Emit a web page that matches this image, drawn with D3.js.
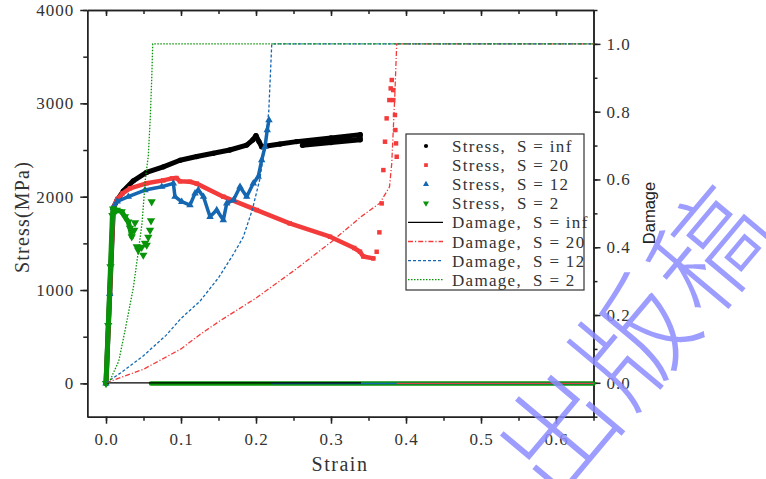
<!DOCTYPE html>
<html>
<head>
<meta charset="utf-8">
<script src="https://cdn.jsdelivr.net/npm/d3@7"></script>
<style>
  body { margin: 0; background: #fff; }
  svg { display: block; }
  text { white-space: pre; }
</style>
</head>
<body>
<svg></svg>
<script>
// tick labels
const strainTicks = [0, 0.1, 0.2, 0.3, 0.4, 0.5, 0.6];
const stressTicks = [0, 1000, 2000, 3000, 4000];
const damageTicks = [0, 0.2, 0.4, 0.6, 0.8, 1.0];

const legendLabels = ["Stress,  S = inf", "Stress,  S = 20", "Stress,  S = 12", "Stress,  S = 2",
                      "Damage,  S = inf", "Damage,  S = 20", "Damage,  S = 12", "Damage,  S = 2"];

// stress curves [strain, stress MPa]; the dense part of each scatter
const stressInf = [[0, 0], [0.005, 960], [0.0098, 1880], [0.015, 1965], [0.023, 2060], [0.0364, 2170],
  [0.054, 2260], [0.0764, 2320], [0.0987, 2390], [0.121, 2430], [0.143, 2465], [0.165, 2500],
  [0.1876, 2553], [0.196, 2610], [0.2, 2655], [0.204, 2590], [0.2076, 2535], [0.232, 2564],
  [0.254, 2590], [0.3, 2630], [0.339, 2665], [0.339, 2610], [0.3, 2580], [0.262, 2550]];

const stress20 = [[0, 0], [0.005, 960], [0.0098, 1880], [0.015, 1975], [0.022, 2035], [0.032, 2089],
  [0.054, 2143], [0.0764, 2175], [0.088, 2196], [0.094, 2200], [0.0987, 2165], [0.112, 2160],
  [0.121, 2140], [0.1564, 2000], [0.201, 1857], [0.245, 1714], [0.2987, 1571], [0.331, 1450],
  [0.3387, 1410], [0.343, 1360], [0.3564, 1339]];
// scattered points after the band
const stress20Tail = [[0.3609, 1410], [0.3645, 1618], [0.3676, 1928], [0.3698, 2285], [0.372, 2589],
  [0.3742, 2839], [0.3778, 3035], [0.3796, 3160], [0.381, 3250], [0.383, 3142], [0.383, 3035],
  [0.3853, 2875], [0.3858, 2714], [0.3867, 2571], [0.3876, 2428]];

const stress12 = [[0, 0], [0.005, 960], [0.0098, 1880], [0.015, 1950], [0.0298, 2000], [0.052, 2071],
  [0.0743, 2107], [0.0898, 2143], [0.092, 2000], [0.101, 1946], [0.112, 1910], [0.1187, 2035],
  [0.123, 2071], [0.13, 2000], [0.1387, 1785], [0.1476, 1857], [0.1564, 1750], [0.161, 1928],
  [0.17, 1964], [0.1787, 2107], [0.1876, 2000], [0.1964, 2143], [0.203, 2214], [0.2076, 2392],
  [0.212, 2535], [0.215, 2714], [0.2173, 2821]];

const stress2 = [[0, 0], [0.003, 620], [0.006, 1250], [0.0085, 1800], [0.0095, 1870], [0.0143, 1857],
  [0.0209, 1839], [0.0253, 1785], [0.0297, 1731], [0.032, 1664], [0.0343, 1571]];
const stress2Tail = [[0.0377, 1642], [0.0387, 1721], [0.041, 1464], [0.043, 1428], [0.0476, 1460],
  [0.0497, 1375], [0.052, 1503], [0.0543, 1482], [0.0564, 1567], [0.0587, 1642], [0.06, 1742],
  [0.0609, 1946]];

// stress after failure lies on zero
const zero20 = [[0.388, 0], [0.65, 0]];
const zero12 = [[0.221, 0], [0.65, 0]];
const zero2 = [[0.06, 0], [0.65, 0]];

// damage curves [strain, damage]
const damageInf = [[0, 0], [0.34, 0]];
const damage20 = [[0, 0], [0.05, 0.04], [0.1, 0.1], [0.125, 0.142], [0.15, 0.18], [0.2, 0.25],
  [0.25, 0.33], [0.3, 0.415], [0.34, 0.49], [0.365, 0.53], [0.378, 0.578], [0.381, 0.647],
  [0.383, 0.745], [0.385, 0.843], [0.3876, 1.0], [0.65, 1.0]];
const damage12 = [[0, 0], [0.02, 0.03], [0.05, 0.08], [0.08, 0.14], [0.1, 0.19], [0.125, 0.24],
  [0.15, 0.31], [0.17, 0.38], [0.183, 0.43], [0.195, 0.51], [0.205, 0.6], [0.212, 0.7],
  [0.217, 0.8], [0.221, 1.0], [0.65, 1.0]];
const damage2 = [[0, 0], [0.004, 0], [0.01, 0.03], [0.017, 0.064], [0.025, 0.15], [0.032, 0.23],
  [0.0364, 0.28], [0.042, 0.37], [0.048, 0.47], [0.0525, 0.6], [0.0564, 0.67], [0.059, 0.78],
  [0.061, 0.9], [0.0623, 1.0], [0.65, 1.0]];

const watermark = "出版稿";

let width = 766;
let height = 479;

let svg = d3.select("svg")
    .attr("width", width)
    .attr("height", height)
    .style("background", "#fff");

let plotLeft = 87.25, plotRight = 593.5, plotTop = 10, plotBottom = 416.7;

let scaleX = d3.scaleLinear().domain([-0.025, 0.65]).range([plotLeft, plotRight]);
let scaleY = d3.scaleLinear().domain([-357, 4000]).range([plotBottom, plotTop]);
let scaleD = d3.scaleLinear().domain([-0.1, 1.1]).range([plotBottom, plotTop]);

const cRed = "#f43b3b", cBlue = "#1467b0", cGreen = "#089408", cAxis = "#222";
const serif = "'Liberation Serif', 'DejaVu Serif', serif";

function styleAxis(g, labels) {
    g.select(".domain").attr("stroke", cAxis).attr("stroke-width", 1.5);
    g.selectAll(".tick line").attr("stroke", cAxis).attr("stroke-width", 1.5);
    g.selectAll(".tick text")
        .attr("fill", "#333")
        .style("font-family", serif)
        .style("font-size", "17px")
        .style("letter-spacing", labels ? "1px" : null);
}

// minor ticks first, majors with labels on top
let g = svg.append("g").attr("transform", `translate(0, ${plotBottom})`)
    .call(d3.axisBottom(scaleX).tickValues(d3.range(0, 0.66, 0.05)).tickSize(4).tickSizeOuter(0).tickFormat(""));
styleAxis(g);
g = svg.append("g").attr("transform", `translate(0, ${plotBottom})`)
    .call(d3.axisBottom(scaleX).tickValues(strainTicks).tickSize(7).tickSizeOuter(0).tickPadding(9).tickFormat(d3.format(".1f")));
styleAxis(g, true);

g = svg.append("g").attr("transform", `translate(0, ${plotTop})`)
    .call(d3.axisTop(scaleX).tickValues(d3.range(0, 0.66, 0.05)).tickSize(-4).tickSizeOuter(0).tickFormat(""));
styleAxis(g);
g = svg.append("g").attr("transform", `translate(0, ${plotTop})`)
    .call(d3.axisTop(scaleX).tickValues(strainTicks).tickSize(-6).tickSizeOuter(0).tickFormat(""));
styleAxis(g);

g = svg.append("g").attr("transform", `translate(${plotLeft}, 0)`)
    .call(d3.axisLeft(scaleY).tickValues(d3.range(0, 4001, 500)).tickSize(4).tickSizeOuter(0).tickFormat(""));
styleAxis(g);
g = svg.append("g").attr("transform", `translate(${plotLeft}, 0)`)
    .call(d3.axisLeft(scaleY).tickValues(stressTicks).tickSize(7).tickSizeOuter(0).tickPadding(6).tickFormat(d3.format("d")));
styleAxis(g, true);

g = svg.append("g").attr("transform", `translate(${plotRight}, 0)`)
    .call(d3.axisRight(scaleD).tickValues(d3.range(-0.1, 1.11, 0.1)).tickSize(4).tickSizeOuter(0).tickFormat(""));
styleAxis(g);
g = svg.append("g").attr("transform", `translate(${plotRight}, 0)`)
    .call(d3.axisRight(scaleD).tickValues(damageTicks).tickSize(7).tickSizeOuter(0).tickPadding(6).tickFormat(d3.format(".1f")));
styleAxis(g, true);

// axis titles
svg.append("text")
    .attr("x", 340).attr("y", 471)
    .attr("text-anchor", "middle")
    .attr("fill", "#333")
    .style("font-family", serif).style("font-size", "20px").style("letter-spacing", "1.5px")
    .text("Strain");

svg.append("text")
    .attr("transform", "translate(29, 217) rotate(-90)")
    .attr("text-anchor", "middle")
    .attr("fill", "#333")
    .style("font-family", serif).style("font-size", "20px").style("letter-spacing", "1.2px")
    .text("Stress(MPa)");

svg.append("text")
    .attr("transform", "translate(655, 213) rotate(-90)")
    .attr("text-anchor", "middle")
    .attr("fill", "#222")
    .style("font-family", "'Liberation Sans', Arial, sans-serif").style("font-size", "16.5px")
    .text("Damage");

let plot = svg.append("g");

let lineS = d3.line().x(d => scaleX(d[0])).y(d => scaleY(d[1]));
let lineD = d3.line().x(d => scaleX(d[0])).y(d => scaleD(d[1]));

function band(data, color, w) {
    plot.append("path")
        .datum(data)
        .attr("d", lineS)
        .attr("fill", "none")
        .attr("stroke", color)
        .attr("stroke-width", w)
        .attr("stroke-linejoin", "round")
        .attr("stroke-linecap", "round");
}

function markers(data, symbol, size, color, rot) {
    plot.selectAll(null)
        .data(data)
        .enter()
        .append("path")
        .attr("d", d3.symbol().type(symbol).size(size))
        .attr("transform", d => `translate(${scaleX(d[0])}, ${scaleY(d[1])}) rotate(${rot || 0})`)
        .attr("fill", color);
}

// stress after failure on zero
band(zero2, cGreen, 4.5);
band(zero12, cBlue, 1.5);
band(zero20, cRed, 1);

band(stressInf, "#000", 5);
markers(stressInf, d3.symbolCircle, 22, "#000");
band(stress20, cRed, 4.5);
markers(stress20, d3.symbolSquare, 20, cRed);
markers(stress20Tail, d3.symbolSquare, 20, cRed);
band(stress12, cBlue, 3.5);
markers(stress12, d3.symbolTriangle, 24, cBlue);
band(stress2, cGreen, 5);
markers(stress2, d3.symbolTriangle, 30, cGreen, 180);
markers(stress2Tail, d3.symbolTriangle, 30, cGreen, 180);

// damage lines
let damageSeries = [
    {data: damageInf, color: "#000", dash: null},
    {data: damage20, color: cRed, dash: "5,2,1.2,2"},
    {data: damage12, color: cBlue, dash: "3,2"},
    {data: damage2, color: cGreen, dash: "1.5,1.5"}
];

damageSeries.forEach(s => {
    plot.append("path")
        .datum(s.data)
        .attr("d", lineD)
        .attr("fill", "none")
        .attr("stroke", s.color)
        .attr("stroke-width", 1.3)
        .attr("stroke-dasharray", s.dash);
});

// legend
let legend = svg.append("g");
legend.append("rect")
    .attr("x", 406).attr("y", 134)
    .attr("width", 178).attr("height", 156)
    .attr("fill", "#fff")
    .attr("stroke", "#333")
    .attr("stroke-width", 1.2);

let legendSymbols = [
    {sym: d3.symbolCircle, size: 14, color: "#000", rot: 0},
    {sym: d3.symbolSquare, size: 14, color: cRed, rot: 0},
    {sym: d3.symbolTriangle, size: 16, color: cBlue, rot: 0},
    {sym: d3.symbolTriangle, size: 16, color: cGreen, rot: 180}
];

legendLabels.forEach((label, i) => {
    let y = 146 + i * 19.1;
    if (i < 4) {
        let s = legendSymbols[i];
        legend.append("path")
            .attr("d", d3.symbol().type(s.sym).size(s.size))
            .attr("transform", `translate(426, ${y}) rotate(${s.rot})`)
            .attr("fill", s.color);
    } else {
        let s = damageSeries[i - 4];
        legend.append("line")
            .attr("x1", 408).attr("x2", 443)
            .attr("y1", y).attr("y2", y)
            .attr("stroke", s.color)
            .attr("stroke-width", 1.3)
            .attr("stroke-dasharray", s.dash);
    }
    legend.append("text")
        .attr("x", 452).attr("y", y + 6)
        .attr("fill", "#333")
        .style("font-family", serif).style("font-size", "17px").style("letter-spacing", "1.3px")
        .text(label);
});

// watermark (the reference crops it at the edges too)
svg.append("text")
    .attr("transform", "translate(630, 335) rotate(-50)")
    .attr("text-anchor", "middle")
    .attr("dominant-baseline", "central")
    .attr("fill", "#8c8cff")
    .attr("fill-opacity", 0.85)
    .style("font-family", "'Noto Sans CJK SC', sans-serif")
    .style("font-weight", 300)
    .style("font-size", "115px")
    .style("letter-spacing", "4px")
    .text(watermark);
</script>
</body>
</html>
